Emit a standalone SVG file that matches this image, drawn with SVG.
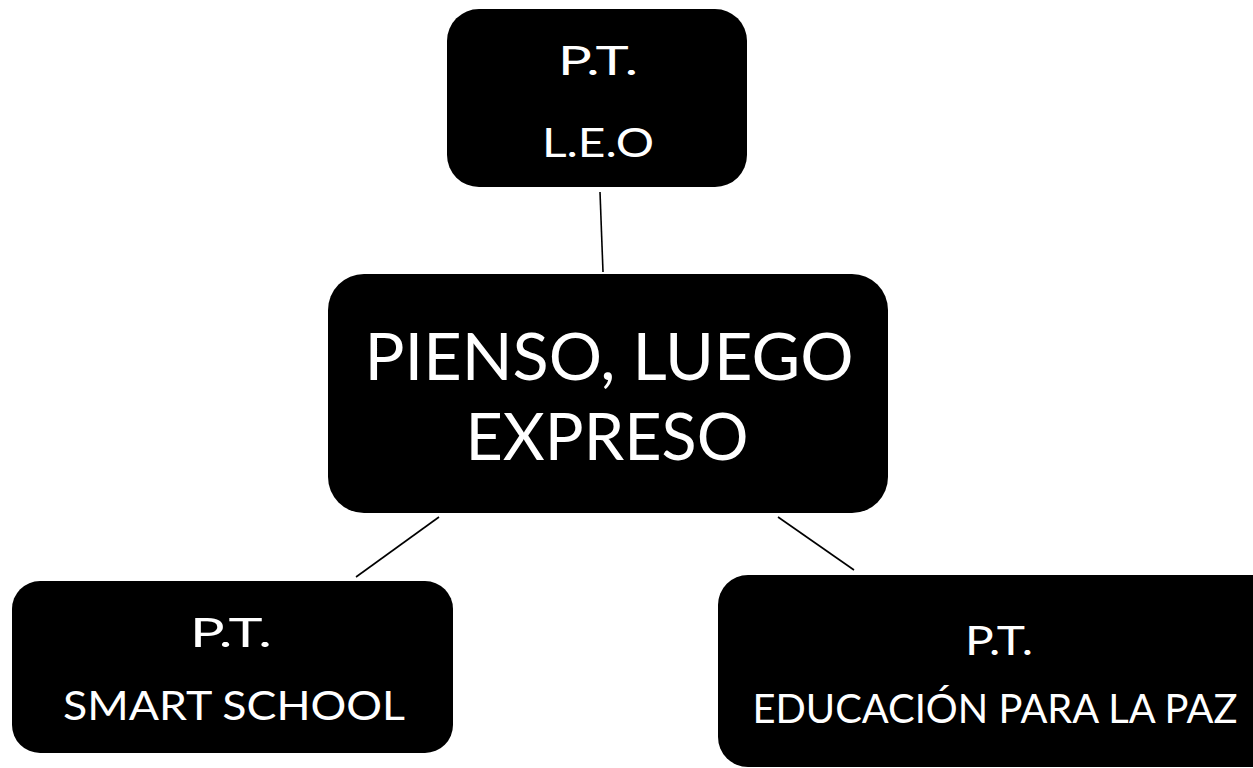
<svg xmlns="http://www.w3.org/2000/svg" width="1253" height="768" viewBox="0 0 1253 768">
<style>
.box{fill:#000}
.t{fill:#fff;font-family:Lato,"Open Sans","Liberation Sans",sans-serif;text-anchor:middle}
.s{font-size:40px}
.b{font-size:65px}
.c{stroke:#000;stroke-width:1.6;fill:none}
</style>
<rect width="1253" height="768" fill="#fff"/>
<g id="connectors">
<line class="c" x1="600" y1="192" x2="603" y2="272"/>
<line class="c" x1="439" y1="517" x2="356" y2="577"/>
<line class="c" x1="778" y1="517" x2="854" y2="570"/>
</g>
<g id="node-top">
<rect class="box" x="447" y="9" width="300" height="178" rx="32"/>
<text class="t s" x="598" y="75" textLength="80" lengthAdjust="spacingAndGlyphs">P.T.</text>
<text class="t s" x="598" y="157" textLength="112" lengthAdjust="spacingAndGlyphs">L.E.O</text>
</g>
<g id="node-center">
<rect class="box" x="328" y="274" width="560" height="239" rx="36"/>
<text class="t b" x="609" y="380" textLength="489" lengthAdjust="spacingAndGlyphs">PIENSO, LUEGO</text>
<text class="t b" x="607" y="460" textLength="283" lengthAdjust="spacingAndGlyphs">EXPRESO</text>
</g>
<g id="node-left">
<rect class="box" x="12" y="581" width="441" height="172" rx="28"/>
<text class="t s" x="231" y="647" textLength="82" lengthAdjust="spacingAndGlyphs">P.T.</text>
<text class="t s" x="234" y="720" textLength="342" lengthAdjust="spacingAndGlyphs">SMART SCHOOL</text>
</g>
<g id="node-right">
<rect class="box" x="718" y="575" width="565" height="192" rx="30"/>
<text class="t s" x="999" y="655" textLength="68" lengthAdjust="spacingAndGlyphs">P.T.</text>
<text class="t s" x="995" y="723" textLength="485" lengthAdjust="spacingAndGlyphs">EDUCACIÓN PARA LA PAZ</text>
</g>
</svg>
